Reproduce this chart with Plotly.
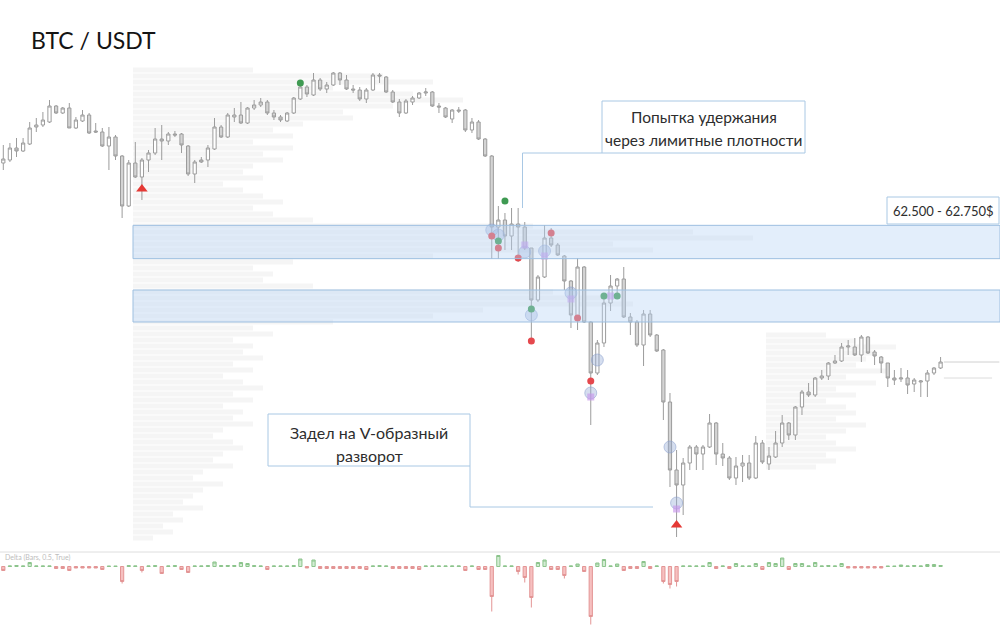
import plotly.graph_objects as go

# ---------------- data ----------------
candle_idx = list(range(1, 144))

open_ = [63217.5, 63240, 63330, 63307.5, 63360, 63487.5, 63502.5, 63525, 63645, 63592.5,
         63630, 63480, 63532.5, 63577.5, 63457.5, 63450, 63345, 63412.5, 63270, 62895,
         63217.5, 63112.5, 63240, 63292.5, 63397.5, 63382.5, 63435, 63435, 63345, 63135,
         63240, 63240, 63322.5, 63487.5, 63412.5, 63562.5, 63577.5, 63517.5, 63630, 63652.5,
         63675, 63592.5, 63562.5, 63532.5, 63592.5, 63697.5, 63787.5, 63727.5, 63840, 63772.5,
         63802.5, 63892.5, 63840, 63772.5, 63765, 63697.5, 63765, 63877.5, 63862.5, 63750,
         63675, 63592.5, 63675, 63705, 63742.5, 63750, 63645, 63630, 63547.5, 63615,
         63615, 63465, 63525, 63397.5, 63270, 62737.5, 62790, 62670, 62760, 62737.5,
         62580, 62190, 62362.5, 62655, 62602.5, 62520, 62332.5, 62055, 62437.5, 62025,
         61642.5, 61867.5, 62167.5, 62295, 62347.5, 62062.5, 62025, 61852.5, 62085, 61927.5,
         61815, 61425, 60915, 60802.5, 60967.5, 61087.5, 61035, 61087.5, 61267.5, 61035,
         61005, 60855, 60945, 60967.5, 60855, 61117.5, 60960, 61012.5, 61117.5, 61267.5,
         61177.5, 61387.5, 61500, 61477.5, 61605, 61620, 61717.5, 61732.5, 61837.5, 61837.5,
         61777.5, 61912.5, 61800, 61762.5, 61717.5, 61605, 61597.5, 61605, 61560, 61575,
         61582.5, 61642.5, 61680]

high = [63352.5, 63367.5, 63405, 63405, 63525, 63555, 63600, 63690, 63652.5, 63637.5,
        63667.5, 63562.5, 63615, 63592.5, 63517.5, 63480, 63487.5, 63427.5, 63277.5, 63240,
        63375, 63255, 63315, 63480, 63502.5, 63450, 63457.5, 63442.5, 63352.5, 63240,
        63262.5, 63352.5, 63555, 63502.5, 63592.5, 63630, 63675, 63637.5, 63690, 63705,
        63690, 63615, 63577.5, 63600, 63712.5, 63802.5, 63802.5, 63892.5, 63855, 63825,
        63900, 63900, 63877.5, 63802.5, 63787.5, 63780, 63892.5, 63892.5, 63870, 63765,
        63697.5, 63697.5, 63720, 63750, 63780, 63757.5, 63667.5, 63637.5, 63622.5, 63637.5,
        63622.5, 63555, 63540, 63405, 63277.5, 62895, 62842.5, 62880, 62880, 62775,
        62580, 62377.5, 62752.5, 62730, 62617.5, 62527.5, 62340, 62505, 62445, 62032.5,
        61890, 62242.5, 62377.5, 62355, 62437.5, 62092.5, 62040, 62115, 62115, 61935,
        61822.5, 61492.5, 61065, 61005, 61102.5, 61102.5, 61102.5, 61335, 61275, 61117.5,
        61020, 61012.5, 61027.5, 61027.5, 61170, 61140, 61087.5, 61207.5, 61327.5, 61275,
        61395, 61515, 61567.5, 61612.5, 61665, 61725, 61777.5, 61867.5, 61890, 61905,
        61927.5, 61920, 61815, 61770, 61717.5, 61665, 61680, 61665, 61605, 61590,
        61665, 61687.5, 61762.5]

low = [63165, 63225, 63262.5, 63300, 63352.5, 63450, 63487.5, 63517.5, 63585, 63585,
       63480, 63472.5, 63525, 63435, 63442.5, 63337.5, 63165, 63240, 62805, 62887.5,
       63105, 62940, 63150, 63277.5, 63240, 63352.5, 63412.5, 63292.5, 63120, 63067.5,
       63217.5, 63187.5, 63315, 63405, 63405, 63525, 63510, 63510, 63615, 63637.5,
       63577.5, 63540, 63525, 63525, 63585, 63690, 63712.5, 63720, 63757.5, 63742.5,
       63795, 63802.5, 63765, 63742.5, 63682.5, 63667.5, 63757.5, 63817.5, 63742.5, 63667.5,
       63562.5, 63585, 63652.5, 63697.5, 63720, 63637.5, 63592.5, 63555, 63517.5, 63592.5,
       63450, 63442.5, 63390, 63262.5, 62497.5, 62497.5, 62565, 62565, 62475, 62565,
       61882.5, 62175, 62355, 62587.5, 62520, 62265, 61980, 61965, 62017.5, 61252.5,
       61627.5, 61837.5, 62107.5, 62227.5, 62055, 61927.5, 61837.5, 61695, 61912.5, 61800,
       61290, 60787.5, 60412.5, 60577.5, 60915, 60915, 60915, 61080, 60952.5, 60945,
       60840, 60802.5, 60825, 60840, 60847.5, 60960, 60915, 61005, 61087.5, 61140,
       61140, 61327.5, 61462.5, 61462.5, 61590, 61590, 61710, 61725, 61777.5, 61770,
       61725, 61785, 61702.5, 61642.5, 61537.5, 61552.5, 61575, 61485, 61500, 61462.5,
       61462.5, 61627.5, 61672.5]

close = [63247.5, 63330, 63307.5, 63367.5, 63480, 63502.5, 63540, 63645, 63592.5, 63630,
         63480, 63540, 63577.5, 63442.5, 63450, 63345, 63412.5, 63270, 62895, 63217.5,
         63112.5, 63240, 63292.5, 63397.5, 63382.5, 63435, 63427.5, 63352.5, 63135, 63225,
         63225, 63330, 63487.5, 63412.5, 63577.5, 63577.5, 63517.5, 63630, 63652.5, 63675,
         63592.5, 63562.5, 63540, 63592.5, 63705, 63787.5, 63735, 63840, 63772.5, 63802.5,
         63892.5, 63840, 63772.5, 63765, 63697.5, 63765, 63877.5, 63870, 63750, 63675,
         63592.5, 63682.5, 63705, 63742.5, 63750, 63645, 63637.5, 63562.5, 63615, 63607.5,
         63465, 63525, 63397.5, 63270, 62737.5, 62790, 62670, 62760, 62737.5, 62580,
         62190, 62362.5, 62655, 62602.5, 62527.5, 62332.5, 62077.5, 62437.5, 62025, 61642.5,
         61867.5, 62167.5, 62295, 62347.5, 62062.5, 62025, 61852.5, 62085, 61927.5, 61807.5,
         61425, 60915, 60802.5, 60967.5, 61087.5, 61035, 61087.5, 61267.5, 61035, 61005,
         60855, 60945, 60967.5, 60855, 61117.5, 60975, 61020, 61117.5, 61267.5, 61177.5,
         61387.5, 61500, 61477.5, 61605, 61620, 61717.5, 61732.5, 61837.5, 61845, 61777.5,
         61912.5, 61792.5, 61770, 61717.5, 61605, 61590, 61605, 61552.5, 61590, 61582.5,
         61642.5, 61680, 61725]

# bar delta (buy - sell volume, arbitrary units)
delta = [-40, 5, 10, 5, 40, 5, 5, 5, -20, -20,
         -40, -15, -15, -15, -15, -30, 3, 3, -150, 8,
         5, -40, 5, 8, -70, 5, 8, -30, -60, 5,
         5, 8, 45, 8, 10, 10, 40, 30, 8, 5,
         -30, 5, 5, 5, 8, 75, -15, 65, -20, -20,
         -20, -20, -20, -20, -20, -30, 5, 8, 5, -20,
         -20, -20, -20, -30, 5, 5, 5, 5, 5, 5,
         -40, 5, -30, -30, -300, 110, 5, 5, -50, -110,
         -310, 40, 65, -30, -30, -90, 5, 25, -50, -500,
         35, 70, 5, 25, -40, -20, -20, 50, -20, 5,
         -150, -180, -150, 5, 5, 5, 5, 40, -20, 5,
         -20, 30, 5, 5, 30, -30, 40, 30, 85, -30,
         30, 30, 5, 40, 5, 10, 5, 30, -15, -15,
         -15, -15, -15, -15, 3, 3, 15, 5, 10, 5,
         20, 20, 10]
delta_low_wick = {19: -170, 22: -60, 75: -450, 79: -80, 80: -160, 81: -410,
                  86: -120, 90: -580, 101: -170, 102: -220, 103: -200}

# limit-order density zones (price)
zones = [(62500, 62750), (62025, 62265)]
zone_label = "62.500 - 62.750$"

# volume profiles (volume per price row, from the top row downwards)
profile_step = 45
profile_left_top = 63915
profile_left_vol = [120, 250, 300, 200, 280, 330, 260, 210, 220, 170,
                    140, 160, 120, 160, 130, 150, 120, 110, 130, 90,
                    110, 130, 150, 120, 140, 180, 400, 560, 620, 480,
                    520, 300, 160, 120, 140, 130, 180, 420, 470, 500,
                    350, 300, 200, 120, 140, 100, 120, 110, 130, 100,
                    120, 90, 110, 130, 100, 120, 90, 110, 100, 120,
                    90, 80, 100, 110, 90, 80, 100, 70, 60, 90,
                    70, 60, 50, 70, 40, 50, 30, 40, 20]
profile_right_top = 61927.5
profile_right_vol = [60, 90, 130, 110, 100, 90, 120, 80, 110, 70,
                     90, 60, 80, 90, 70, 100, 80, 60, 70, 90,
                     60, 70, 50]
right_poc = 61605

# signal markers (candle index, price)
green_x = [46, 76, 77, 81, 92, 94]
green_y = [63817.5, 62632.5, 62932.5, 62122.5, 62220, 62220]
red_x = [75, 76, 79, 81, 84, 88, 90]
red_y = [62670, 62580, 62505, 61882.5, 62692.5, 62055, 61582.5]
tri_x = [22, 103]
tri_y = [63022.5, 60502.5]
blue_x = [75, 76, 80, 81, 83, 87, 90, 91, 102, 103]
blue_y = [62715, 62677.5, 62550, 62077.5, 62557.5, 62242.5, 61492.5, 61740, 61087.5, 60667.5]
purple_x = [80, 83, 87, 90, 93, 103]
purple_y = [62602.5, 62520, 62197.5, 61462.5, 62220, 60622.5]

# ---------------- figure ----------------
FONT = "Lato, 'Noto Sans', sans-serif"
fig = go.Figure()

left_levels = [profile_left_top - profile_step * i for i in range(len(profile_left_vol))]
right_levels = [profile_right_top - profile_step * i for i in range(len(profile_right_vol))]

fig.add_trace(go.Bar(y=left_levels, x=profile_left_vol, orientation="h", base=0,
                     width=38, marker=dict(color="rgba(0,0,0,0.04)", line=dict(width=0)),
                     xaxis="x", yaxis="y", hoverinfo="skip"))
fig.add_trace(go.Bar(y=right_levels, x=profile_right_vol, orientation="h", base=0,
                     width=38, marker=dict(color="rgba(0,0,0,0.04)", line=dict(width=0)),
                     xaxis="x2", yaxis="y", hoverinfo="skip"))

fig.add_trace(go.Candlestick(
    x=candle_idx, open=open_, high=high, low=low, close=close,
    xaxis="x3", yaxis="y", whiskerwidth=0, hoverinfo="skip",
    increasing=dict(line=dict(color="#9c9c9c", width=1), fillcolor="#ffffff"),
    decreasing=dict(line=dict(color="#9c9c9c", width=1), fillcolor="#d4d4d4")))

fig.add_trace(go.Scatter(x=blue_x, y=blue_y, mode="markers", xaxis="x3", yaxis="y",
                         marker=dict(size=12, color="rgba(150,172,215,0.40)",
                                     line=dict(color="rgba(140,160,205,0.55)", width=1)),
                         hoverinfo="skip"))
fig.add_trace(go.Scatter(x=purple_x, y=purple_y, mode="markers", xaxis="x3", yaxis="y",
                         marker=dict(size=7, symbol="square", color="rgba(200,150,235,0.65)"),
                         hoverinfo="skip"))
fig.add_trace(go.Scatter(x=green_x, y=green_y, mode="markers", xaxis="x3", yaxis="y",
                         marker=dict(size=7, color="#3f9a52"), hoverinfo="skip"))
fig.add_trace(go.Scatter(x=red_x, y=red_y, mode="markers", xaxis="x3", yaxis="y",
                         marker=dict(size=7, color="#e5484d"), hoverinfo="skip"))
fig.add_trace(go.Scatter(x=tri_x, y=tri_y, mode="markers", xaxis="x3", yaxis="y",
                         marker=dict(size=10, symbol="triangle-up", color="#e53935"),
                         hoverinfo="skip"))

# delta subpanel
d_open = [0] * len(delta)
d_high = [max(0, d) for d in delta]
d_low = [delta_low_wick.get(i, min(0, d)) for i, d in zip(candle_idx, delta)]
fig.add_trace(go.Candlestick(
    x=candle_idx, open=d_open, high=d_high, low=d_low, close=delta,
    xaxis="x4", yaxis="y2", whiskerwidth=0, hoverinfo="skip",
    increasing=dict(line=dict(color="#8cc48c", width=1), fillcolor="#d3ecd3"),
    decreasing=dict(line=dict(color="#e39595", width=1), fillcolor="#f6c0c0")))

H = 625.0
def py(px):
    return 1 - px / H

shapes = []
for lo, hi in zones:
    shapes.append(dict(type="rect", xref="paper", yref="y", x0=0.133, x1=1.0, y0=lo, y1=hi,
                       fillcolor="rgba(185,212,245,0.40)",
                       line=dict(color="#9dbfe0", width=1), layer="above"))
# last price / POC guide lines
shapes.append(dict(type="line", xref="x3", yref="y", x0=143.5, x1=151.9,
                   y0=close[-1], y1=close[-1], line=dict(color="#d0d0d0", width=1)))
shapes.append(dict(type="line", xref="x3", yref="y", x0=143.5, x1=150.8,
                   y0=right_poc, y1=right_poc, line=dict(color="#dcdcdc", width=1)))
# panel separator
shapes.append(dict(type="line", xref="paper", yref="paper", x0=0, x1=1,
                   y0=py(552), y1=py(552), line=dict(color="#dedede", width=1)))

BOX = "#a9c8e4"
# callout 1
shapes.append(dict(type="path", xref="paper", yref="paper",
                   path=f"M 0.602 {py(153)} L 0.5225 {py(153)} L 0.5225 {py(208)}",
                   line=dict(color=BOX, width=1)))
shapes.append(dict(type="rect", xref="paper", yref="paper", x0=0.602, x1=0.805,
                   y0=py(153), y1=py(101), fillcolor="white", line=dict(color=BOX, width=1)))
# callout 2
shapes.append(dict(type="path", xref="paper", yref="paper",
                   path=f"M 0.470 {py(466)} L 0.470 {py(507)} L 0.653 {py(507)}",
                   line=dict(color=BOX, width=1)))
shapes.append(dict(type="rect", xref="paper", yref="paper", x0=0.268, x1=0.470,
                   y0=py(466), y1=py(414), fillcolor="white", line=dict(color=BOX, width=1)))
# zone label box
shapes.append(dict(type="rect", xref="paper", yref="paper", x0=0.887, x1=0.999,
                   y0=py(224), y1=py(197), fillcolor="white", line=dict(color=BOX, width=1)))

TXT = "#2d2d2d"
def ann(text, x, y_px, size, color=TXT, xanchor="center"):
    return dict(text=text, x=x, y=py(y_px), xref="paper", yref="paper", showarrow=False,
                xanchor=xanchor, yanchor="middle", font=dict(family=FONT, size=size, color=color))

annotations = [
    ann("BTC / USDT", 0.029, 40, 23, "#141414", "left"),
    ann("Попытка удержания", 0.7035, 117, 15.5),
    ann("через лимитные плотности", 0.7035, 140, 15.5),
    ann("Задел на V-образный", 0.369, 432, 16),
    ann("разворот", 0.369, 455, 16),
    ann(zone_label, 0.943, 211, 13),
    ann("Delta (Bars, 0.5, True)", 0.003, 557, 7, "#bdbdbd", "left"),
]

fig.update_layout(
    width=1000, height=625, margin=dict(l=0, r=0, t=0, b=0),
    paper_bgcolor="white", plot_bgcolor="white", showlegend=False,
    font=dict(family=FONT),
    xaxis=dict(range=[-133, 867], visible=False, anchor="y", fixedrange=True),
    xaxis2=dict(overlaying="x", range=[-766, 234], visible=False, anchor="y"),
    xaxis3=dict(overlaying="x", range=[0.5, 152.0], visible=False, anchor="y",
                rangeslider=dict(visible=False)),
    xaxis4=dict(domain=[0, 1], range=[0.5, 152.0], visible=False, anchor="y2",
                rangeslider=dict(visible=False)),
    yaxis=dict(domain=[py(548), 1], range=[60330, 64440], visible=False),
    yaxis2=dict(domain=[0, py(552)], range=[-585, 145], visible=False, anchor="x4"),
    shapes=shapes, annotations=annotations,
)

fig.write_html("out.html", config={"displayModeBar": False},
               post_script="document.body.style.margin='0';document.body.style.overflow='hidden';")
